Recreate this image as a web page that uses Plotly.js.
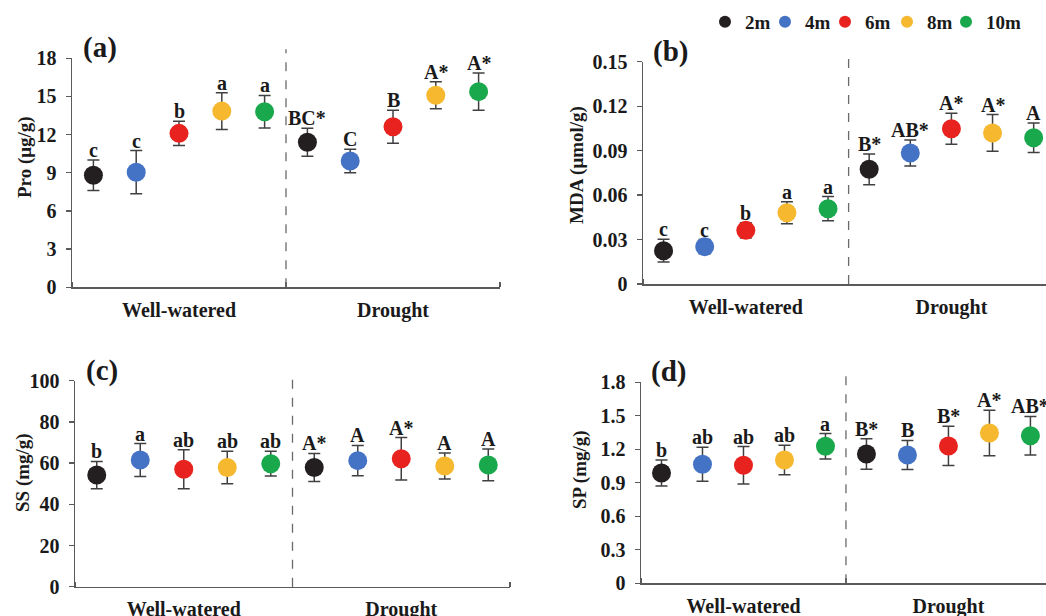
<!DOCTYPE html>
<html>
<head>
<meta charset="utf-8">
<script src="https://cdn.plot.ly/plotly-3.0.1.min.js"></script>
<style>html,body{margin:0;padding:0;background:#fff;}#chart{width:1046px;height:616px;}</style>
</head>
<body>
<div id="chart"></div>
<script>
const groups = ['Well-watered', 'Drought'];
const depths = ['2m', '4m', '6m', '8m', '10m'];
const colors = ['#231f20', '#4472c4', '#e8231f', '#f5b82e', '#19a84c'];

// (a) Pro
const proWW = [8.8, 9.05, 12.1, 13.85, 13.8];
const proWWsd = [1.2, 1.7, 0.95, 1.45, 1.28];
const proDr = [11.4, 9.93, 12.62, 15.1, 15.38];
const proDrsd = [1.1, 0.93, 1.3, 1.06, 1.47];
const proLetWW = ['c', 'c', 'b', 'a', 'a'];
const proLetDr = ['BC*', 'C', 'B', 'A*', 'A*'];

// (b) MDA
const mdaWW = [0.0225, 0.0252, 0.0362, 0.0481, 0.0508];
const mdaWWsd = [0.0077, 0.0048, 0.0051, 0.0074, 0.0082];
const mdaDr = [0.0774, 0.0884, 0.1048, 0.1019, 0.0987];
const mdaDrsd = [0.0104, 0.0087, 0.0105, 0.0124, 0.0099];
const mdaLetWW = ['c', 'c', 'b', 'a', 'a'];
const mdaLetDr = ['B*', 'AB*', 'A*', 'A*', 'A'];

// (c) SS
const ssWW = [54.2, 61.5, 57.0, 57.9, 59.7];
const ssWWsd = [6.6, 8.0, 9.5, 7.9, 6.0];
const ssDr = [57.9, 61.2, 62.1, 58.6, 59.1];
const ssDrsd = [6.8, 7.4, 10.3, 6.3, 7.7];
const ssLetWW = ['b', 'a', 'ab', 'ab', 'ab'];
const ssLetDr = ['A*', 'A', 'A*', 'A', 'A'];

// (d) SP
const spWW = [0.988, 1.066, 1.057, 1.104, 1.227];
const spWWsd = [0.116, 0.153, 0.167, 0.133, 0.114];
const spDr = [1.158, 1.149, 1.23, 1.346, 1.322];
const spDrsd = [0.137, 0.13, 0.176, 0.203, 0.172];
const spLetWW = ['b', 'ab', 'ab', 'ab', 'a'];
const spLetDr = ['B*', 'B', 'B*', 'A*', 'AB*'];

const FONT = 'Liberation Serif';
const panels = [
  {ax: '', ww: proWW, wwsd: proWWsd, dr: proDr, drsd: proDrsd, lww: proLetWW, ldr: proLetDr,
   title: 'Pro (μg/g)', tpos: [25, 157], yr: [0, 18], dt: 3, tag: '(a)',
   xd: [72/1046, 500/1046], yd: [1-287.3/616, 1-58.3/616], xr: [-0.5, 9.5]},
  {ax: '2', ww: mdaWW, wwsd: mdaWWsd, dr: mdaDr, drsd: mdaDrsd, lww: mdaLetWW, ldr: mdaLetDr,
   title: 'MDA (μmol/g)', tpos: [577, 165], yr: [0, 0.15], dt: 0.03, tag: '(b)',
   xd: [643/1046, 1], yd: [1-284/616, 1-61.7/616], xr: [-0.5, 9.3]},
  {ax: '3', ww: ssWW, wwsd: ssWWsd, dr: ssDr, drsd: ssDrsd, lww: ssLetWW, ldr: ssLetDr,
   title: 'SS (mg/g)', tpos: [23, 473], yr: [0, 100], dt: 20, tag: '(c)',
   xd: [75/1046, 510/1046], yd: [1-586.7/616, 1-380.7/616], xr: [-0.5, 9.5]},
  {ax: '4', ww: spWW, wwsd: spWWsd, dr: spDr, drsd: spDrsd, lww: spLetWW, ldr: spLetDr,
   title: 'SP (mg/g)', tpos: [580, 470], yr: [0, 1.8], dt: 0.3, tag: '(d)',
   xd: [641/1046, 1], yd: [1-583.3/616, 1-382.3/616], xr: [-0.5, 9.38]}
];

// left edges (px) of the five single-item legends along the top
const legendLeft = [705, 765, 825, 887, 946];

const traces = [];
const annotations = [];
const shapes = [];
const layout = {
  width: 1046, height: 616,
  margin: {l: 0, r: 0, t: 0, b: 0, autoexpand: false},
  paper_bgcolor: '#fff', plot_bgcolor: 'rgba(0,0,0,0)',
  font: {family: FONT, color: '#1a1a1a', size: 18, weight: 'bold'},
  showlegend: true,
  annotations: annotations, shapes: shapes
};
depths.forEach((d, i) => {
  const key = i === 0 ? 'legend' : 'legend' + (i + 1);
  layout[key] = {orientation: 'h', x: legendLeft[i] / 1046, y: 1 - 22/616, xanchor: 'left', yanchor: 'middle',
    font: {family: FONT, size: 19, weight: 'bold', color: '#1a1a1a'},
    itemsizing: 'constant', itemwidth: 30, bgcolor: 'rgba(0,0,0,0)'};
});

panels.forEach((p, pi) => {
  const xa = 'x' + p.ax, ya = 'y' + p.ax;
  depths.forEach((d, i) => {
    traces.push({
      type: 'scatter', mode: 'markers', name: d,
      x: [i, i + depths.length], y: [p.ww[i], p.dr[i]],
      xaxis: xa, yaxis: ya,
      marker: {color: colors[i], size: 19},
      error_y: {type: 'data', array: [p.wwsd[i], p.drsd[i]], visible: true,
                color: '#404040', thickness: 1.5, width: 6},
      showlegend: pi === 0, legend: i === 0 ? 'legend' : 'legend' + (i + 1),
      legendgroup: d, cliponaxis: false
    });
    annotations.push({xref: xa, yref: ya, x: i, y: p.ww[i] + p.wwsd[i], text: p.lww[i],
      showarrow: false, yanchor: 'bottom', yshift: -3,
      font: {family: FONT, size: 20, weight: 'bold', color: '#1a1a1a'}});
    annotations.push({xref: xa, yref: ya, x: i + depths.length, y: p.dr[i] + p.drsd[i], text: p.ldr[i],
      showarrow: false, yanchor: 'bottom', yshift: -3,
      font: {family: FONT, size: 20, weight: 'bold', color: '#1a1a1a'}});
  });
  annotations.push({xref: xa + ' domain', yref: ya + ' domain', x: 0.02, y: 1.0,
    text: p.tag, showarrow: false, xanchor: 'left', yanchor: 'bottom', yshift: -8,
    font: {family: FONT, size: 29, weight: 'bold', color: '#1a1a1a'}});
  // y-axis title as rotated text
  annotations.push({xref: 'paper', yref: 'paper', x: p.tpos[0] / 1046, y: 1 - p.tpos[1] / 616,
    text: p.title, showarrow: false, textangle: -90, xanchor: 'center', yanchor: 'middle',
    font: {family: FONT, size: 19, weight: 'bold', color: '#1a1a1a'}});
  shapes.push({type: 'line', xref: xa, yref: ya + ' domain', x0: 4.5, x1: 4.5, y0: 0, y1: 1.04,
    line: {color: '#6a6a6a', width: 1.3, dash: 'dash'}});
  const xk = 'xaxis' + p.ax, yk = 'yaxis' + p.ax;
  layout[xk] = {
    domain: p.xd, anchor: ya, range: p.xr, showgrid: false, zeroline: false, automargin: false,
    showline: true, linecolor: '#5a5a5a', linewidth: 1.5,
    tickmode: 'array', tickvals: [2, 7], ticktext: groups, ticks: '',
    ticklabelstandoff: 4,
    tickfont: {family: FONT, size: 20, weight: 'bold', color: '#1a1a1a'},
    minor: {tickmode: 'array', tickvals: [-0.5, 4.5, 9.5], ticks: 'inside', ticklen: 5,
            tickcolor: '#5a5a5a', tickwidth: 1.3, showgrid: false},
    fixedrange: true
  };
  layout[yk] = {
    domain: p.yd, anchor: xa, range: p.yr, dtick: p.dt, tick0: 0, showgrid: false, zeroline: false,
    automargin: false,
    showline: true, linecolor: '#5a5a5a', linewidth: 1.5,
    ticks: 'outside', ticklen: 5, tickcolor: '#5a5a5a', tickwidth: 1.3,
    ticklabelstandoff: 5,
    tickfont: {family: FONT, size: 20, weight: 'bold', color: '#1a1a1a'},
    fixedrange: true
  };
});

Plotly.newPlot('chart', traces, layout, {displayModeBar: false, staticPlot: true});
</script>
</body>
</html>
